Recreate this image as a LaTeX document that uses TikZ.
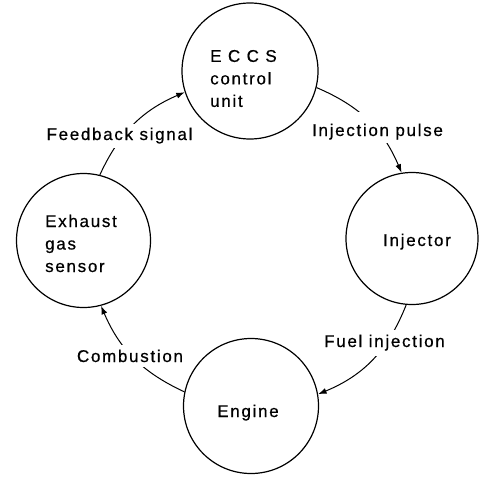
\documentclass[tikz,border=0pt]{standalone}
\usepackage{fontspec}
\setmainfont{Liberation Sans}[LetterSpace=10, FakeBold=0.6]
\usetikzlibrary{arrows.meta}
\begin{document}
\begin{tikzpicture}[x=1pt,y=-1pt,
  font=\fontsize{17}{22.5}\selectfont,
  unit/.style={draw, circle, line width=1.2pt, inner sep=0pt},
  txt/.style={inner sep=0pt, align=left},
  flow/.style={line width=1pt, -{Latex[length=8.5pt,width=6pt]}},
  lab/.style={fill=white, inner xsep=2pt, inner ysep=4pt, anchor=base}]
\useasboundingbox (0,0) rectangle (481,476);
% units
\node[unit, minimum size=136pt] (eccs) at (250,71) {};
\node[unit, minimum size=134pt] (exh) at (83.5,240.5) {};
\node[unit, minimum size=132pt] (inj) at (412,238.5) {};
\node[unit, minimum size=135pt] (eng) at (251,406) {};
% unit texts
\node[txt, anchor=north west] (eccsT) at (210,49.8) {E C C S\\control\\unit};
\node[txt, anchor=north west] (exhT) at (45,214.5) {Exhaust\\gas\\sensor};
\node[txt, anchor=base] (injT) at (417,246) {Injector};
\node[txt, anchor=base] (engT) at (248,417) {Engine};
% connectors
\draw[flow] (exh.76) to[bend left=21] (eccs.198);
\draw[flow] (eccs.-14) to[bend left=22] (inj.99);
\draw[flow] (inj.265) to[bend left=23] (eng.10);
\draw[flow] (eng.168) to[bend left=21] (exh.-75);
% labels
\node[lab] (fb) at (119.5,140) {Feedback signal};
\node[lab, inner ysep=3pt] (ip) at (377.5,136) {\rule{0pt}{21pt}Injection pulse};
\node[lab, inner ysep=5pt] (fi) at (384.5,347) {Fuel injection};
\node[lab, inner ysep=5pt] (cb) at (130,362) {Combustion};
\end{tikzpicture}
\end{document}
